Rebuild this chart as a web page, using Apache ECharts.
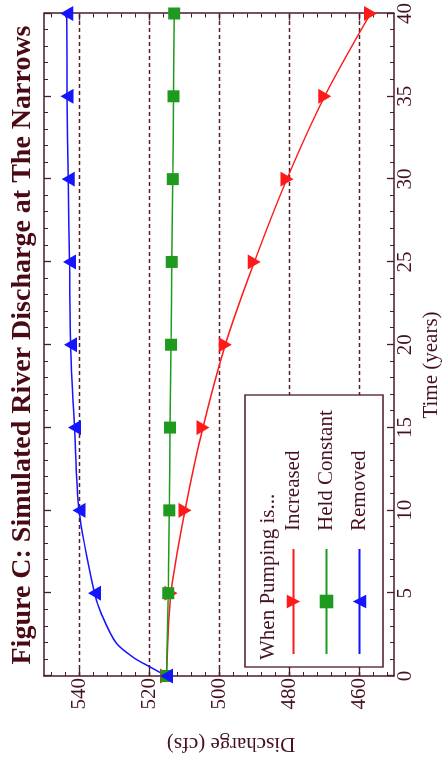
<!DOCTYPE html>
<html><head><meta charset="utf-8">
<script src="https://cdn.jsdelivr.net/npm/echarts@6/dist/echarts.min.js"></script>
<style>
html,body{margin:0;padding:0;width:444px;height:760px;overflow:hidden;background:#fff;}
#chart{position:absolute;left:0;top:0;width:760px;height:444px;transform-origin:0 0;transform:translate(0,760px) rotate(-90deg);}
</style></head><body><div id="chart"></div>
<script>
// ---- data ----
const timeYears = [0, 5, 10, 15, 20, 25, 30, 35, 40];
const increased = [515.0, 513.7, 509.7, 504.6, 498.2, 489.9, 480.6, 469.8, 456.7];
const heldConstant = [515.0, 514.5, 514.2, 514.0, 513.7, 513.5, 513.2, 513.0, 512.8];
const removedYears = [0, 0.56, 1.07, 2.0, 3.8, 5, 10, 15, 20, 25, 30, 35, 40];
const removed = [515.0, 519.8, 524.1, 529.4, 533.7, 535.6, 540.0, 541.3, 542.4, 542.7, 543.1, 543.4, 543.5];
const timeTicks = [0, 5, 10, 15, 20, 25, 30, 35, 40];
const dischargeMajor = [460, 480, 500, 520, 540];
const dischargeMinor = [452, 456, 464, 468, 472, 476, 484, 488, 492, 496, 504, 508, 512, 516, 524, 528, 532, 536, 544, 548];
const seriesNames = ['Increased', 'Held Constant', 'Removed'];
const titleText = 'Figure C: Simulated River Discharge at The Narrows';
const legendTitle = 'When Pumping is...';
const xName = 'Time (years)';
const yName = 'Discharge (cfs)';

const FONT = 'Liberation Serif';
const AX = '#4a1a2e';
const TXT = '#46121f';
const GRIDC = '#5a1e22';

const chart = echarts.init(document.getElementById('chart'), null, {renderer: 'canvas', width: 760, height: 444});

const pairs = (xs, ys) => xs.map((x, i) => [x, ys[i]]);
const removedData = removedYears.map((t, i) => (t % 5 === 0) ? [t, removed[i]] : {value: [t, removed[i]], symbol: 'none'});

const xBase = (pos, labels) => ({
  type: 'value', position: pos, min: 0, max: 40, interval: 5,
  axisLine: {show: true, onZero: false, lineStyle: {color: AX, width: 1.5}},
  axisTick: {show: true, inside: true, length: 7, lineStyle: {color: AX, width: 1.3}},
  minorTick: {show: true, splitNumber: 5, length: 4, lineStyle: {color: AX, width: 1}},
  axisLabel: {show: labels, margin: 1, color: TXT, fontFamily: FONT, fontSize: 21},
  splitLine: {show: false}
});
const yBase = (pos, ticks, len, labels, split, line) => ({
  type: 'value', position: pos, min: 450, max: 550, interval: 10,
  axisLine: {show: line, onZero: false, lineStyle: {color: AX, width: 1.5}},
  axisTick: {show: true, inside: true, length: len, customValues: ticks, lineStyle: {color: AX, width: len > 5 ? 1.3 : 1}},
  axisLabel: {show: labels, customValues: ticks, margin: 2, color: TXT, fontFamily: FONT, fontSize: 21},
  splitLine: {show: split, lineStyle: {color: GRIDC, width: 1.3, type: [4, 3]}}
});

chart.setOption({
  animation: false,
  backgroundColor: '#fff',
  grid: {left: 84, right: 12, top: 44, bottom: 50, containLabel: false},
  xAxis: [xBase('bottom', true), xBase('top', false)],
  yAxis: [
    yBase('left', dischargeMajor, 7, true, true, true),
    yBase('left', dischargeMinor, 4, false, false, false),
    yBase('right', dischargeMajor, 7, false, false, true),
    yBase('right', dischargeMinor, 4, false, false, false)
  ],
  legend: {
    orient: 'vertical', left: 105, top: 283, padding: 0, itemGap: 12,
    itemWidth: 105, itemHeight: 17, z: 6,
    data: seriesNames,
    textStyle: {fontFamily: FONT, fontSize: 21, color: TXT, padding: [0, 0, 0, 13]}
  },
  graphic: [
    {type: 'text', x: 415, y: 23, style: {text: titleText, textAlign: 'center', textVerticalAlign: 'middle', font: 'bold 28px "Liberation Serif"', fill: '#4a0a14'}},
    {type: 'rect', shape: {x: 93, y: 245, width: 272, height: 138}, style: {fill: '#fff', stroke: AX, lineWidth: 1.3}, z: 4},
    {type: 'text', x: 100, y: 268, style: {text: legendTitle, textAlign: 'left', textVerticalAlign: 'middle', font: '21px "Liberation Serif"', fill: TXT}, z: 5},
    {type: 'text', x: 395, y: 431, style: {text: xName, textAlign: 'center', textVerticalAlign: 'middle', font: '21px "Liberation Serif"', fill: TXT}},
    {type: 'text', x: 16, y: 231, rotation: Math.PI / 2, style: {text: yName, textAlign: 'center', textVerticalAlign: 'middle', font: '21px "Liberation Serif"', fill: TXT}}
  ],
  series: [
    {name: seriesNames[0], type: 'line', data: pairs(timeYears, increased), smooth: 0.3,
     symbol: 'triangle', symbolRotate: 180, symbolSize: [15, 13], showAllSymbol: true,
     lineStyle: {color: '#ff1a1a', width: 1.5}, itemStyle: {color: '#ff1a1a'}},
    {name: seriesNames[1], type: 'line', data: pairs(timeYears, heldConstant), smooth: 0.3,
     symbol: 'rect', symbolSize: 12, showAllSymbol: true,
     lineStyle: {color: '#1e9a1e', width: 1.5}, itemStyle: {color: '#1e9a1e'}},
    {name: seriesNames[2], type: 'line', data: removedData, smooth: 0.3,
     symbol: 'triangle', symbolSize: [15, 13], showAllSymbol: true,
     lineStyle: {color: '#1414ff', width: 1.5}, itemStyle: {color: '#1414ff'}}
  ]
});
</script></body></html>
